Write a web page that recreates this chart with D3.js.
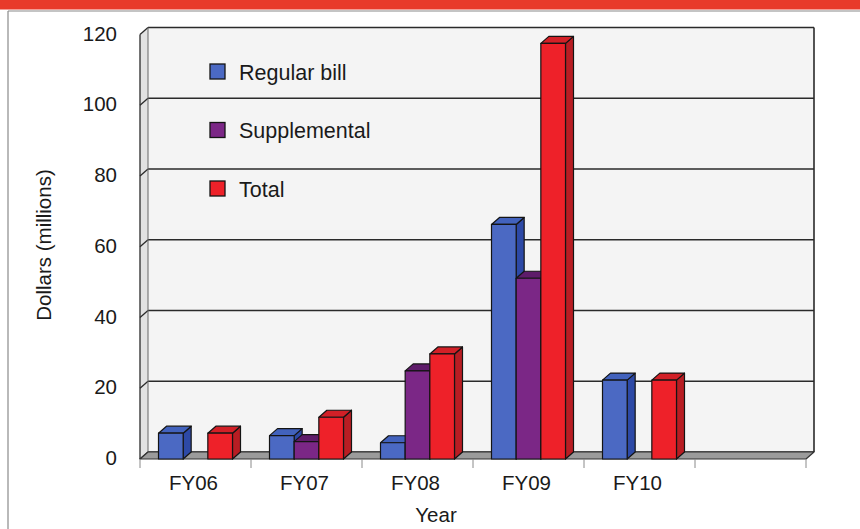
<!DOCTYPE html>
<html>
<head>
<meta charset="utf-8">
<script src="https://cdn.jsdelivr.net/npm/d3@7/dist/d3.min.js"></script>
<style>
  html, body { margin: 0; padding: 0; background: #fff; }
  svg { display: block; font-family: "Liberation Sans", Arial, Helvetica, sans-serif; }
</style>
</head>
<body>
<svg id="chart" width="860" height="529"></svg>
<script>
const categories = ["FY06", "FY07", "FY08", "FY09", "FY10"];
const seriesNames = ["Regular bill", "Supplemental", "Total"];
const regularBill = [7.3, 6.6, 4.6, 66.3, 22.3];
const supplemental = [null, 4.9, 24.9, 51.1, null];
const totalValues = [7.3, 11.8, 29.7, 117.5, 22.3];
const yTicks = [0, 20, 40, 60, 80, 100, 120];
const yLabel = "Dollars (millions)";
const xLabel = "Year";

const seriesValues = [regularBill, supplemental, totalValues];
const colors = {
  "Regular bill": { front: "#4b69c3", side: "#2d49a6", top: "#4262bd" },
  "Supplemental": { front: "#7b2786", side: "#571763", top: "#5e1c6a" },
  "Total": { front: "#ee2129", side: "#b81d23", top: "#d22027" }
};

const DX = 8, DY = 7;
const svg = d3.select("#chart");

// header band & frame
svg.append("rect").attr("x", 0).attr("y", 0).attr("width", 860).attr("height", 9.5).attr("fill", "#e83a2a");
svg.append("line").attr("x1", 8).attr("x2", 860).attr("y1", 11).attr("y2", 11).attr("stroke", "#8a8a8a").attr("stroke-width", 1.2);
svg.append("line").attr("x1", 8).attr("x2", 8).attr("y1", 11).attr("y2", 529).attr("stroke", "#8a8a8a").attr("stroke-width", 1.2);

// scales
const slots = [...categories, ""];
const x = d3.scaleBand().domain(slots).range([140, 806]).padding(0);
const inner = d3.scaleBand().domain(seriesNames).range([0, x.bandwidth()]).paddingInner(0).paddingOuter(0.75);
const y = d3.scaleLinear().domain([0, 120]).range([452, 27.5]);      // back wall
const yFront = d3.scaleLinear().domain([0, 120]).range([452 + DY, 27.5 + DY]);

const x0 = x.range()[0], x1 = x.range()[1];

// back wall
svg.append("rect").attr("x", x0 + DX).attr("y", y(120)).attr("width", x1 - x0).attr("height", y(0) - y(120))
  .attr("fill", "#f4f4f4");
// left wall
svg.append("polygon")
  .attr("points", [[x0, yFront(0)], [x0, yFront(120)], [x0 + DX, y(120)], [x0 + DX, y(0)]].map(p => p.join(",")).join(" "))
  .attr("fill", "#e2e2e2").attr("stroke", "none");

// gridlines
svg.append("g").selectAll("line").data(yTicks).join("line")
  .attr("x1", x0 + DX).attr("x2", x1 + DX)
  .attr("y1", d => y(d)).attr("y2", d => y(d))
  .attr("stroke", "#2a2a2a").attr("stroke-width", 1.6);
// left wall diagonals
svg.append("g").selectAll("line").data(yTicks).join("line")
  .attr("x1", x0).attr("x2", x0 + DX)
  .attr("y1", d => yFront(d)).attr("y2", d => y(d))
  .attr("stroke", "#2a2a2a").attr("stroke-width", 1.3);
// walls' edges
svg.append("line").attr("x1", x0 + DX).attr("x2", x0 + DX).attr("y1", y(120)).attr("y2", y(0)).attr("stroke", "#666").attr("stroke-width", 1);
svg.append("line").attr("x1", x1 + DX).attr("x2", x1 + DX).attr("y1", y(120)).attr("y2", y(0)).attr("stroke", "#2a2a2a").attr("stroke-width", 1.6);
svg.append("line").attr("x1", x0).attr("x2", x0).attr("y1", yFront(120)).attr("y2", yFront(0)).attr("stroke", "#2a2a2a").attr("stroke-width", 1.3);

// floor
svg.append("polygon")
  .attr("points", [[x0, yFront(0)], [x1, yFront(0)], [x1 + DX, y(0)], [x0 + DX, y(0)]].map(p => p.join(",")).join(" "))
  .attr("fill", "#9b9b9b").attr("stroke", "#333").attr("stroke-width", 1.2).attr("stroke-linejoin", "round");

// x tick marks at slot boundaries
const boundaries = slots.map(s => x(s)).concat([x1]);
svg.append("g").selectAll("line").data(boundaries).join("line")
  .attr("x1", d => d).attr("x2", d => d)
  .attr("y1", yFront(0)).attr("y2", yFront(0) + 9)
  .attr("stroke", "#8a8a8a").attr("stroke-width", 1);

// bars
const barsG = svg.append("g");
categories.forEach((cat, ci) => {
  seriesNames.forEach((s, si) => {
    const v = seriesValues[si][ci];
    if (v == null) return;
    const bx = x(cat) + inner(s);
    const w = inner.bandwidth();
    const yt = yFront(v), yb = yFront(0);
    const c = colors[s];
    const g = barsG.append("g").attr("stroke", "#141414").attr("stroke-width", 1.2).attr("stroke-linejoin", "round");
    g.append("polygon")
      .attr("points", [[bx + w, yt], [bx + w + DX, yt - DY], [bx + w + DX, yb - DY], [bx + w, yb]].map(p => p.join(",")).join(" "))
      .attr("fill", c.side);
    g.append("polygon")
      .attr("points", [[bx, yt], [bx + w, yt], [bx + w + DX, yt - DY], [bx + DX, yt - DY]].map(p => p.join(",")).join(" "))
      .attr("fill", c.top);
    g.append("rect").attr("x", bx).attr("y", yt).attr("width", w).attr("height", yb - yt).attr("fill", c.front);
  });
});

// y axis labels
const yAxis = d3.axisLeft(yFront).tickValues(yTicks).tickSize(0).tickPadding(0).tickFormat(d3.format("d"));
const yg = svg.append("g").attr("transform", "translate(117,-1)").call(yAxis);
yg.select(".domain").remove();
yg.selectAll("text").attr("font-size", 20.5).attr("fill", "#1a1a1a").attr("font-family", "Liberation Sans, Arial, sans-serif");

// x axis labels
const xAxis = d3.axisBottom(x).tickSize(0).tickPadding(16);
const xg = svg.append("g").attr("transform", `translate(-2,${yFront(0)})`).call(xAxis);
xg.select(".domain").remove();
xg.selectAll("text").attr("font-size", 20.5).attr("fill", "#1a1a1a").attr("font-family", "Liberation Sans, Arial, sans-serif");

// axis titles
svg.append("text").attr("transform", "translate(51,245) rotate(-90)").attr("text-anchor", "middle")
  .attr("font-size", 20.5).attr("fill", "#1a1a1a").text(yLabel);
svg.append("text").attr("x", 436).attr("y", 522).attr("text-anchor", "middle")
  .attr("font-size", 20.5).attr("fill", "#1a1a1a").text(xLabel);

// legend
const legendY = d3.scalePoint().domain(seriesNames).range([72, 189]);
const lg = svg.append("g");
seriesNames.forEach(s => {
  lg.append("rect").attr("x", 210).attr("y", legendY(s) - 8).attr("width", 15).attr("height", 15)
    .attr("fill", colors[s].front).attr("stroke", "#141414").attr("stroke-width", 1.3);
  lg.append("text").attr("x", 239).attr("y", legendY(s)).attr("dy", "0.35em")
    .attr("font-size", 21.5).attr("fill", "#1a1a1a").text(s);
});
</script>
</body>
</html>
